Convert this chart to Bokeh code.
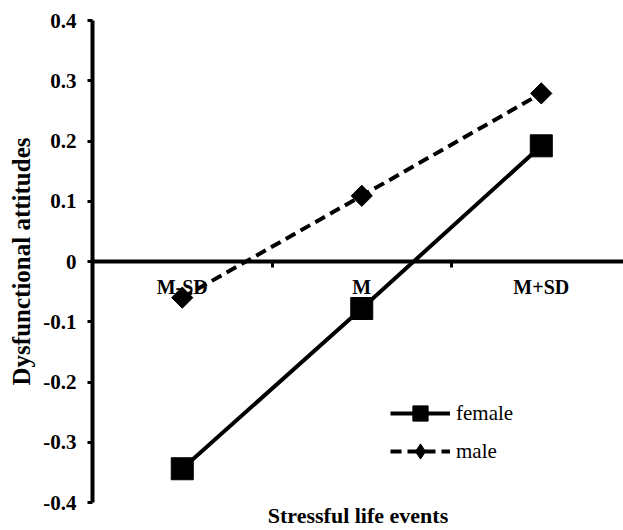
import math
from bokeh.plotting import figure
from bokeh.models import Range1d, FixedTicker, LinearAxis, Legend, LegendItem
from bokeh.embed import file_html
from bokeh.resources import INLINE

# ---- data ----
categories = ["M-SD", "M", "M+SD"]
cat_pos = [0.5, 1.5, 2.5]
cat_boundaries = [1.0, 2.0]
female = [-0.344, -0.078, 0.192]
male = [-0.060, 0.109, 0.279]
y_ticks = [-0.4, -0.3, -0.2, -0.1, 0.0, 0.1, 0.2, 0.3, 0.4]
y_tick_labels = ["-0.4", "-0.3", "-0.2", "-0.1", "0", "0.1", "0.2", "0.3", "0.4"]
x_title = "Stressful life events"
y_title = "Dysfunctional attitudes"
series_names = ["female", "male"]

FONT = "Liberation Serif"

p = figure(width=623, height=530, output_backend="svg", toolbar_location=None,
           x_range=Range1d(0, 2.958), y_range=Range1d(-0.4, 0.4),
           min_border_left=92, min_border_right=0, min_border_top=20,
           min_border_bottom=28)
p.outline_line_color = None
p.xgrid.visible = False
p.ygrid.visible = False
p.background_fill_color = "white"

# horizontal axis drawn at y = 0
xa = p.xaxis[0]
xa.fixed_location = 0
xa.ticker = FixedTicker(ticks=cat_pos, minor_ticks=cat_boundaries)
xa.major_label_overrides = {pos: lab for pos, lab in zip(cat_pos, categories)}
xa.axis_line_width = 4
xa.axis_line_color = "black"
xa.major_tick_out = 0
xa.major_tick_in = 0
xa.minor_tick_out = 6
xa.minor_tick_in = 0
xa.minor_tick_line_width = 3
xa.minor_tick_line_color = "black"
xa.major_label_standoff = 8
xa.major_label_text_font = FONT
xa.major_label_text_font_style = "bold"
xa.major_label_text_font_size = "20px"
xa.major_label_text_color = "black"

# x title axis at bottom
ta = LinearAxis(ticker=FixedTicker(ticks=[]), axis_label=x_title,
                axis_line_color=None, major_tick_line_color=None,
                minor_tick_line_color=None, major_tick_out=0, minor_tick_out=0,
                major_label_text_font_size="0px", axis_label_standoff=0,
                axis_label_text_font=FONT, axis_label_text_font_style="bold",
                axis_label_text_font_size="22px", axis_label_text_color="black")
p.add_layout(ta, "below")

# y axis
ya = p.yaxis[0]
ya.ticker = FixedTicker(ticks=y_ticks)
ya.major_label_overrides = {t: lab for t, lab in zip(y_ticks, y_tick_labels)}
ya.axis_line_width = 4
ya.axis_line_color = "black"
ya.major_tick_out = 5
ya.major_tick_in = 0
ya.major_tick_line_width = 3
ya.minor_tick_line_color = None
ya.major_label_standoff = 11
ya.major_label_text_font = FONT
ya.major_label_text_font_style = "bold"
ya.major_label_text_font_size = "21px"
ya.major_label_text_color = "black"
ya.axis_label = y_title
ya.axis_label_standoff = 5
ya.axis_label_text_font = FONT
ya.axis_label_text_font_style = "bold"
ya.axis_label_text_font_size = "25px"
ya.axis_label_text_color = "black"

fl = p.line(cat_pos, female, line_width=4, line_color="black")
ml = p.line(cat_pos, male, line_width=4, line_color="black", line_dash="11 6")
fm = p.scatter(cat_pos, female, marker="square", size=22, color="black")
# diamond (used by the legend), covered by the rotated-square marker on top
md = p.scatter(cat_pos, male, marker="diamond", size=18, color="black")
mm = p.scatter(cat_pos, male, marker="square", angle=math.pi / 4, size=15, color="black")

legend = Legend(items=[LegendItem(label=series_names[0], renderers=[fl, fm]),
                       LegendItem(label=series_names[1], renderers=[ml, md])],
                location=(298, 32), glyph_width=60, glyph_height=38,
                label_standoff=6, label_text_font=FONT, label_text_font_size="21px",
                label_text_color="black", border_line_color=None,
                background_fill_alpha=0, padding=0, margin=0, spacing=0)
p.add_layout(legend)

open("out.html", "w").write(file_html(p, INLINE))
